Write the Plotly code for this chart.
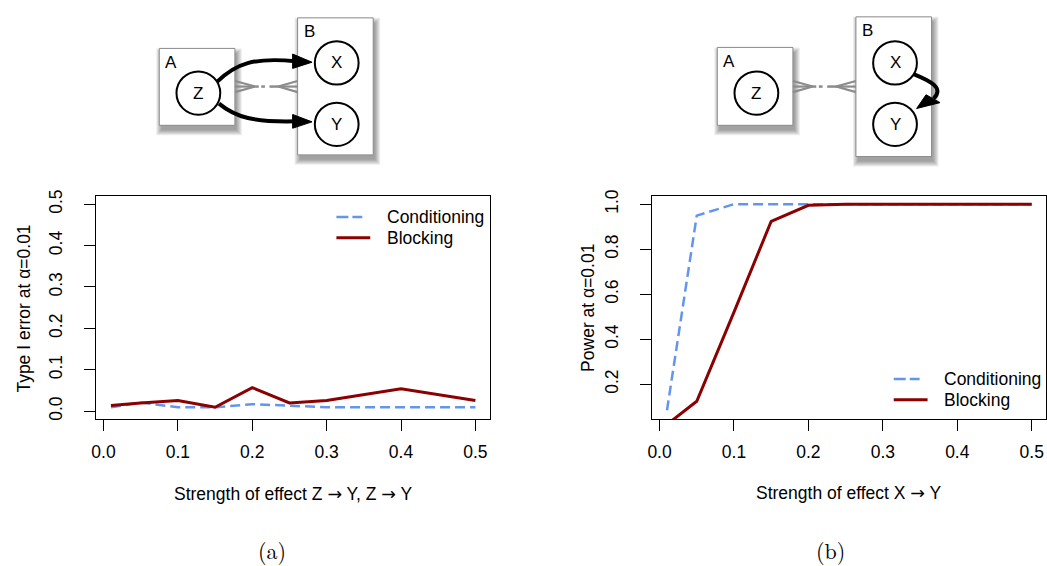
import plotly.graph_objects as go

W, H = 1047, 566

# ---- data -------------------------------------------------------------
effect_strength = [0.01, 0.05, 0.10, 0.15, 0.20, 0.25, 0.30, 0.40, 0.50]

type1_conditioning = [0.0095, 0.021, 0.0095, 0.0095, 0.017, 0.0135, 0.0095, 0.0095, 0.0095]
type1_blocking = [0.0135, 0.020, 0.026, 0.0095, 0.057, 0.020, 0.026, 0.054, 0.026]

power_conditioning = [0.084, 0.949, 1.0, 1.0, 1.0, 1.0, 1.0, 1.0, 1.0]
power_blocking = [0.021, 0.124, 0.52, 0.924, 0.995, 1.0, 1.0, 1.0, 1.0]

x_ticks = [0.0, 0.1, 0.2, 0.3, 0.4, 0.5]
type1_ticks = [0.0, 0.1, 0.2, 0.3, 0.4, 0.5]
power_ticks = [0.2, 0.4, 0.6, 0.8, 1.0]

series_names = ["Conditioning", "Blocking"]
BLUE = "#6495ED"
RED = "#8B0000"
FONT = "Liberation Sans, Arial, Helvetica, sans-serif"
FS = 17.5
ARROW = '<span style="font-family:DejaVu Sans">→</span>'


def px(x):
    return x / W


def py(y):
    return 1 - y / H


fig = go.Figure()

# ---- line traces ------------------------------------------------------
fig.add_trace(go.Scatter(x=effect_strength, y=type1_conditioning, mode="lines",
                         line=dict(color=BLUE, width=2.5, dash="10px,5px"),
                         name=series_names[0], xaxis="x", yaxis="y", showlegend=False))
fig.add_trace(go.Scatter(x=effect_strength, y=type1_blocking, mode="lines",
                         line=dict(color=RED, width=3),
                         name=series_names[1], xaxis="x", yaxis="y", showlegend=False))
fig.add_trace(go.Scatter(x=effect_strength, y=power_conditioning, mode="lines",
                         line=dict(color=BLUE, width=2.5, dash="10px,5px"),
                         name=series_names[0], xaxis="x2", yaxis="y2", showlegend=False))
fig.add_trace(go.Scatter(x=effect_strength, y=power_blocking, mode="lines",
                         line=dict(color=RED, width=3),
                         name=series_names[1], xaxis="x2", yaxis="y2", showlegend=False))

axis_common = dict(showline=True, mirror=True, linecolor="black", linewidth=1,
                   ticks="outside", ticklen=11, tickwidth=1, tickcolor="black",
                   showgrid=False, zeroline=False,
                   tickfont=dict(family=FONT, size=FS, color="black"))

ydom = [py(418.4), py(191.6)]

fig.update_layout(
    width=W, height=H,
    margin=dict(l=0, r=0, t=0, b=0),
    paper_bgcolor="white", plot_bgcolor="white",
    showlegend=False,
    xaxis=dict(domain=[px(91.8), px(487.3)], range=[-0.0096, 0.5196],
               tickvals=x_ticks, ticktext=[f"{v:.1f}" for v in x_ticks],
               anchor="y", ticklabelstandoff=6, **axis_common),
    yaxis=dict(domain=ydom, range=[-0.02, 0.52],
               tickvals=type1_ticks, ticktext=[f"{v:.1f}" for v in type1_ticks],
               tickangle=-90, anchor="x", ticklabelstandoff=15, **axis_common),
    xaxis2=dict(domain=[px(650.5), px(1046.3)], range=[-0.0096, 0.5196],
                tickvals=x_ticks, ticktext=[f"{v:.1f}" for v in x_ticks],
                anchor="y2", ticklabelstandoff=6, **axis_common),
    yaxis2=dict(domain=ydom, range=[0.0432, 1.0368],
                tickvals=power_ticks, ticktext=[f"{v:.1f}" for v in power_ticks],
                tickangle=-90, anchor="x2", ticklabelstandoff=15, **axis_common),
)

shapes = []
annotations = []


def text(x, y, s, size=FS, xanchor="center", angle=0, family=FONT):
    annotations.append(dict(x=px(x), y=py(y), xref="paper", yref="paper", text=s,
                            showarrow=False, xanchor=xanchor, yanchor="middle",
                            textangle=angle,
                            font=dict(family=family, size=size, color="black")))


def seg(x0, y0, x1, y1, color, width, dash=None):
    line = dict(color=color, width=width)
    if dash:
        line["dash"] = dash
    shapes.append(dict(type="line", xref="paper", yref="paper",
                       x0=px(x0), y0=py(y0), x1=px(x1), y1=py(y1), line=line))


def path(points_str, color, width, fill=None):
    shp = dict(type="path", xref="paper", yref="paper", path=points_str,
               line=dict(color=color, width=width))
    if fill:
        shp["fillcolor"] = fill
    shapes.append(shp)


def cubic(p0, c1, c2, p1):
    f = lambda p: f"{px(p[0]):.5f},{py(p[1]):.5f}"
    return f"M {f(p0)} C {f(c1)} {f(c2)} {f(p1)}"


def triangle(a, b, c):
    f = lambda p: f"{px(p[0]):.5f},{py(p[1]):.5f}"
    return f"M {f(a)} L {f(b)} L {f(c)} Z"


def plate(x0, y0, x1, y1, label):
    # soft drop shadow
    for s in range(6):
        shapes.append(dict(type="rect", xref="paper", yref="paper",
                           x0=px(x0 - s + 2), x1=px(x1 + s + 2),
                           y0=py(y0 - s + 5), y1=py(y1 + s + 5),
                           line=dict(width=0), fillcolor="rgba(0,0,0,0.07)"))
    shapes.append(dict(type="rect", xref="paper", yref="paper",
                       x0=px(x0), x1=px(x1), y0=py(y0), y1=py(y1),
                       line=dict(color="#8a8a8a", width=1), fillcolor="white"))
    text(x0 + 11.5, y0 + 14, label, size=17)


def node(cx, cy, label, r=22):
    shapes.append(dict(type="circle", xref="paper", yref="paper",
                       x0=px(cx - r), x1=px(cx + r), y0=py(cy + r), y1=py(cy - r),
                       line=dict(color="black", width=2), fillcolor="white"))
    text(cx, cy, label, size=17)


def plate_link(xa, xb, y, apex_a, apex_b):
    g = "#8c8c8c"
    for dy in (-5.7, 0, 5.7):
        seg(xa, y + dy, apex_a, y, g, 2.2)
        seg(xb, y + dy, apex_b, y, g, 2.2)
    span = apex_b - apex_a
    seg(apex_a, y, apex_a + 0.15 * span, y, g, 2.5)
    seg(apex_a + 0.26 * span, y, apex_a + 0.42 * span, y, g, 2.5)
    seg(apex_a + 0.62 * span, y, apex_b, y, g, 2.5)


# ---- diagram (a) --------------------------------------------------------
plate(155, 42, 231, 120, "A")
plate(294, 11, 370, 150, "B")
plate_link(231, 294, 80.7, 251.5, 274.5)
node(194.3, 87.3, "Z")
node(333.3, 56.7, "X")
node(333.3, 119, "Y")
path(cubic((213, 76), (232, 57), (250, 51), (292, 55)), "black", 4)
path(triangle((289, 47.7), (308.5, 56), (289, 62.3)), "black", 1, fill="black")
path(cubic((215, 98), (232, 112), (250, 117), (292, 116)), "black", 4)
path(triangle((289, 109), (308.5, 116.5), (289, 123)), "black", 1, fill="black")

# ---- diagram (b) --------------------------------------------------------
plate(715.7, 41, 791.7, 120, "A")
plate(855, 10, 931, 151.7, "B")
plate_link(791.7, 855, 80.7, 811.7, 835)
node(755, 87.3, "Z")
node(894.3, 56.7, "X")
node(894.3, 119, "Y")
path(cubic((913, 68), (930, 75), (944, 82), (933, 93)), "black", 4)
path(triangle((925.5, 89), (916, 103), (939.5, 97)), "black", 1, fill="black")

# ---- axis titles --------------------------------------------------------
text(289.5, 494, f"Strength of effect Z {ARROW} Y, Z {ARROW} Y")
text(848.4, 493, f"Strength of effect X {ARROW} Y")
text(19, 306, "Type I error at α=0.01", angle=-90)
text(585, 305, "Power at α=0.01", angle=-90)

# ---- legends ------------------------------------------------------------
for (lx, ly, tx) in [(333, 213, 381.5), (893, 377.3, 941)]:
    seg(lx, ly, lx + 26, ly, BLUE, 2.5, dash="12px,4px")
    seg(lx, ly + 21, lx + 34, ly + 21, RED, 3)
    text(tx, ly, series_names[0], xanchor="left")
    text(tx, ly + 21, series_names[1], xanchor="left")

# ---- panel captions -----------------------------------------------------
text(268, 550, "(a)", size=22, family="Latin Modern Roman, DejaVu Serif, serif")
text(829, 550, "(b)", size=22, family="Latin Modern Roman, DejaVu Serif, serif")

fig.update_layout(shapes=shapes, annotations=annotations)
fig.write_html("out.html")
